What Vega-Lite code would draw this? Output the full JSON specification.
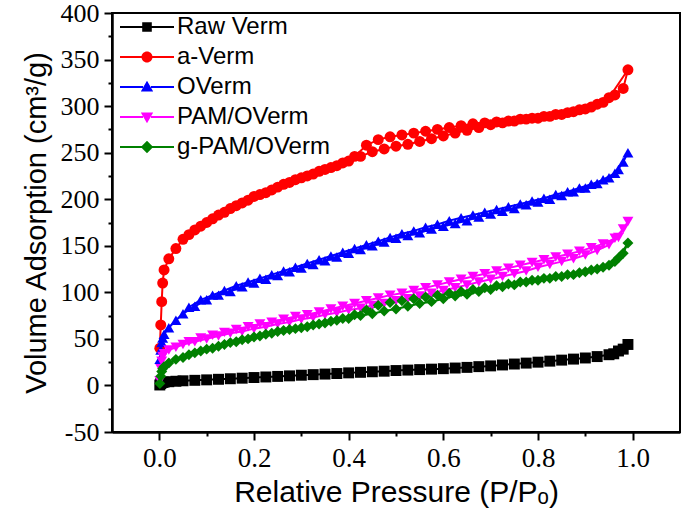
{
  "$schema": "https://vega.github.io/schema/vega-lite/v6.json",
  "width": 568,
  "height": 419,
  "autosize": {"type": "none"},
  "padding": {"left": 112, "top": 13, "right": 5, "bottom": 85},
  "background": "white",
  "config": {
    "view": {"stroke": "black", "strokeWidth": 2},
    "axis": {"grid": false}
  },
  "data": {"values": [
    {"s":"Raw Verm","i":1,"p":0.001,"v":0.5},{"s":"Raw Verm","i":2,"p":0.003,"v":2},{"s":"Raw Verm","i":3,"p":0.005,"v":3},{"s":"Raw Verm","i":4,"p":0.007,"v":3.3},{"s":"Raw Verm","i":5,"p":0.01,"v":3.6},{"s":"Raw Verm","i":6,"p":0.02,"v":4},{"s":"Raw Verm","i":7,"p":0.035,"v":4.5},{"s":"Raw Verm","i":8,"p":0.05,"v":5},{"s":"Raw Verm","i":9,"p":0.075,"v":5.5},{"s":"Raw Verm","i":10,"p":0.1,"v":6},{"s":"Raw Verm","i":11,"p":0.125,"v":6.6},{"s":"Raw Verm","i":12,"p":0.15,"v":7.2},{"s":"Raw Verm","i":13,"p":0.175,"v":7.8},{"s":"Raw Verm","i":14,"p":0.2,"v":8.5},{"s":"Raw Verm","i":15,"p":0.225,"v":9.1},{"s":"Raw Verm","i":16,"p":0.25,"v":9.7},{"s":"Raw Verm","i":17,"p":0.275,"v":10.3},{"s":"Raw Verm","i":18,"p":0.3,"v":11},{"s":"Raw Verm","i":19,"p":0.325,"v":11.6},{"s":"Raw Verm","i":20,"p":0.35,"v":12.2},{"s":"Raw Verm","i":21,"p":0.375,"v":12.8},{"s":"Raw Verm","i":22,"p":0.4,"v":13.5},{"s":"Raw Verm","i":23,"p":0.425,"v":14.1},{"s":"Raw Verm","i":24,"p":0.45,"v":14.7},{"s":"Raw Verm","i":25,"p":0.475,"v":15.3},{"s":"Raw Verm","i":26,"p":0.5,"v":16},{"s":"Raw Verm","i":27,"p":0.525,"v":16.5},{"s":"Raw Verm","i":28,"p":0.55,"v":17},{"s":"Raw Verm","i":29,"p":0.575,"v":17.5},{"s":"Raw Verm","i":30,"p":0.6,"v":18},{"s":"Raw Verm","i":31,"p":0.625,"v":18.7},{"s":"Raw Verm","i":32,"p":0.65,"v":19.4},{"s":"Raw Verm","i":33,"p":0.675,"v":20.2},{"s":"Raw Verm","i":34,"p":0.7,"v":21},{"s":"Raw Verm","i":35,"p":0.725,"v":22},{"s":"Raw Verm","i":36,"p":0.75,"v":23},{"s":"Raw Verm","i":37,"p":0.775,"v":24},{"s":"Raw Verm","i":38,"p":0.8,"v":25},{"s":"Raw Verm","i":39,"p":0.825,"v":26.1},{"s":"Raw Verm","i":40,"p":0.85,"v":27.2},{"s":"Raw Verm","i":41,"p":0.875,"v":28.3},{"s":"Raw Verm","i":42,"p":0.9,"v":29.5},{"s":"Raw Verm","i":43,"p":0.925,"v":31},{"s":"Raw Verm","i":44,"p":0.95,"v":33},{"s":"Raw Verm","i":45,"p":0.97,"v":37},{"s":"Raw Verm","i":46,"p":0.99,"v":44},{"s":"Raw Verm","i":47,"p":0.98,"v":39},{"s":"Raw Verm","i":48,"p":0.96,"v":34},

    {"s":"a-Verm","i":1,"p":0.001,"v":40},{"s":"a-Verm","i":2,"p":0.003,"v":65},{"s":"a-Verm","i":3,"p":0.005,"v":90},{"s":"a-Verm","i":4,"p":0.007,"v":110},{"s":"a-Verm","i":5,"p":0.01,"v":124},{"s":"a-Verm","i":6,"p":0.02,"v":136},{"s":"a-Verm","i":7,"p":0.035,"v":147},{"s":"a-Verm","i":8,"p":0.05,"v":157},{"s":"a-Verm","i":9,"p":0.075,"v":167},{"s":"a-Verm","i":10,"p":0.1,"v":175},{"s":"a-Verm","i":11,"p":0.125,"v":183},{"s":"a-Verm","i":12,"p":0.15,"v":190},{"s":"a-Verm","i":13,"p":0.175,"v":196},{"s":"a-Verm","i":14,"p":0.2,"v":203},{"s":"a-Verm","i":15,"p":0.225,"v":207},{"s":"a-Verm","i":16,"p":0.25,"v":213},{"s":"a-Verm","i":17,"p":0.275,"v":218},{"s":"a-Verm","i":18,"p":0.3,"v":223},{"s":"a-Verm","i":19,"p":0.325,"v":227},{"s":"a-Verm","i":20,"p":0.35,"v":232},{"s":"a-Verm","i":21,"p":0.375,"v":236},{"s":"a-Verm","i":22,"p":0.4,"v":241},{"s":"a-Verm","i":23,"p":0.425,"v":246},{"s":"a-Verm","i":24,"p":0.45,"v":251},{"s":"a-Verm","i":25,"p":0.475,"v":254},{"s":"a-Verm","i":26,"p":0.5,"v":257},{"s":"a-Verm","i":27,"p":0.525,"v":259},{"s":"a-Verm","i":28,"p":0.55,"v":262},{"s":"a-Verm","i":29,"p":0.575,"v":265},{"s":"a-Verm","i":30,"p":0.6,"v":268},{"s":"a-Verm","i":31,"p":0.625,"v":271},{"s":"a-Verm","i":32,"p":0.65,"v":274},{"s":"a-Verm","i":33,"p":0.675,"v":277},{"s":"a-Verm","i":34,"p":0.7,"v":280},{"s":"a-Verm","i":35,"p":0.725,"v":282},{"s":"a-Verm","i":36,"p":0.75,"v":284},{"s":"a-Verm","i":37,"p":0.775,"v":286},{"s":"a-Verm","i":38,"p":0.8,"v":287},{"s":"a-Verm","i":39,"p":0.825,"v":289},{"s":"a-Verm","i":40,"p":0.85,"v":291},{"s":"a-Verm","i":41,"p":0.875,"v":294},{"s":"a-Verm","i":42,"p":0.9,"v":297},{"s":"a-Verm","i":43,"p":0.925,"v":302},{"s":"a-Verm","i":44,"p":0.95,"v":309},{"s":"a-Verm","i":45,"p":0.99,"v":339},
    {"s":"a-Verm","i":46,"p":0.98,"v":319},{"s":"a-Verm","i":47,"p":0.9625,"v":312},{"s":"a-Verm","i":48,"p":0.9375,"v":304},{"s":"a-Verm","i":49,"p":0.9125,"v":299},{"s":"a-Verm","i":50,"p":0.8875,"v":296},{"s":"a-Verm","i":51,"p":0.8625,"v":293},{"s":"a-Verm","i":52,"p":0.8375,"v":291},{"s":"a-Verm","i":53,"p":0.8125,"v":289},{"s":"a-Verm","i":54,"p":0.7875,"v":287},{"s":"a-Verm","i":55,"p":0.7625,"v":286},{"s":"a-Verm","i":56,"p":0.7375,"v":284},{"s":"a-Verm","i":57,"p":0.7125,"v":283},{"s":"a-Verm","i":58,"p":0.6875,"v":282},{"s":"a-Verm","i":59,"p":0.6625,"v":281},{"s":"a-Verm","i":60,"p":0.6375,"v":279},{"s":"a-Verm","i":61,"p":0.6125,"v":277},{"s":"a-Verm","i":62,"p":0.5875,"v":275},{"s":"a-Verm","i":63,"p":0.5625,"v":273},{"s":"a-Verm","i":64,"p":0.5375,"v":271},{"s":"a-Verm","i":65,"p":0.5125,"v":269},{"s":"a-Verm","i":66,"p":0.4875,"v":267},{"s":"a-Verm","i":67,"p":0.4625,"v":264},{"s":"a-Verm","i":68,"p":0.4375,"v":258},{"s":"a-Verm","i":69,"p":0.4125,"v":246},{"s":"a-Verm","i":70,"p":0.3875,"v":239},{"s":"a-Verm","i":71,"p":0.3625,"v":234},{"s":"a-Verm","i":72,"p":0.3375,"v":230},{"s":"a-Verm","i":73,"p":0.3125,"v":225},{"s":"a-Verm","i":74,"p":0.2875,"v":221},{"s":"a-Verm","i":75,"p":0.2625,"v":216},{"s":"a-Verm","i":76,"p":0.2375,"v":210},{"s":"a-Verm","i":77,"p":0.2125,"v":205},{"s":"a-Verm","i":78,"p":0.1875,"v":199},{"s":"a-Verm","i":79,"p":0.1625,"v":193},{"s":"a-Verm","i":80,"p":0.1375,"v":186},{"s":"a-Verm","i":81,"p":0.1125,"v":179},{"s":"a-Verm","i":82,"p":0.0875,"v":171},{"s":"a-Verm","i":83,"p":0.0625,"v":162},

    {"s":"OVerm","i":1,"p":0.001,"v":28},{"s":"OVerm","i":2,"p":0.003,"v":38},{"s":"OVerm","i":3,"p":0.005,"v":46},{"s":"OVerm","i":4,"p":0.007,"v":51},{"s":"OVerm","i":5,"p":0.01,"v":55},{"s":"OVerm","i":6,"p":0.02,"v":62},{"s":"OVerm","i":7,"p":0.035,"v":70},{"s":"OVerm","i":8,"p":0.05,"v":77},{"s":"OVerm","i":9,"p":0.075,"v":85},{"s":"OVerm","i":10,"p":0.1,"v":92},{"s":"OVerm","i":11,"p":0.125,"v":97},{"s":"OVerm","i":12,"p":0.15,"v":101},{"s":"OVerm","i":13,"p":0.175,"v":106},{"s":"OVerm","i":14,"p":0.2,"v":110},{"s":"OVerm","i":15,"p":0.225,"v":114},{"s":"OVerm","i":16,"p":0.25,"v":118},{"s":"OVerm","i":17,"p":0.275,"v":122},{"s":"OVerm","i":18,"p":0.3,"v":126},{"s":"OVerm","i":19,"p":0.325,"v":130},{"s":"OVerm","i":20,"p":0.35,"v":134},{"s":"OVerm","i":21,"p":0.375,"v":138},{"s":"OVerm","i":22,"p":0.4,"v":142},{"s":"OVerm","i":23,"p":0.425,"v":146},{"s":"OVerm","i":24,"p":0.45,"v":150},{"s":"OVerm","i":25,"p":0.475,"v":154},{"s":"OVerm","i":26,"p":0.5,"v":158},{"s":"OVerm","i":27,"p":0.525,"v":161},{"s":"OVerm","i":28,"p":0.55,"v":164},{"s":"OVerm","i":29,"p":0.575,"v":168},{"s":"OVerm","i":30,"p":0.6,"v":171},{"s":"OVerm","i":31,"p":0.625,"v":174},{"s":"OVerm","i":32,"p":0.65,"v":177},{"s":"OVerm","i":33,"p":0.675,"v":181},{"s":"OVerm","i":34,"p":0.7,"v":184},{"s":"OVerm","i":35,"p":0.725,"v":187},{"s":"OVerm","i":36,"p":0.75,"v":190},{"s":"OVerm","i":37,"p":0.775,"v":194},{"s":"OVerm","i":38,"p":0.8,"v":197},{"s":"OVerm","i":39,"p":0.825,"v":200},{"s":"OVerm","i":40,"p":0.85,"v":204},{"s":"OVerm","i":41,"p":0.875,"v":208},{"s":"OVerm","i":42,"p":0.9,"v":212},{"s":"OVerm","i":43,"p":0.925,"v":217},{"s":"OVerm","i":44,"p":0.95,"v":223},{"s":"OVerm","i":45,"p":0.97,"v":232},{"s":"OVerm","i":46,"p":0.99,"v":250},
    {"s":"OVerm","i":47,"p":0.98,"v":240},{"s":"OVerm","i":48,"p":0.9625,"v":228},{"s":"OVerm","i":49,"p":0.9375,"v":221},{"s":"OVerm","i":50,"p":0.9125,"v":216},{"s":"OVerm","i":51,"p":0.8875,"v":212},{"s":"OVerm","i":52,"p":0.8625,"v":208},{"s":"OVerm","i":53,"p":0.8375,"v":205},{"s":"OVerm","i":54,"p":0.8125,"v":201},{"s":"OVerm","i":55,"p":0.7875,"v":198},{"s":"OVerm","i":56,"p":0.7625,"v":195},{"s":"OVerm","i":57,"p":0.7375,"v":192},{"s":"OVerm","i":58,"p":0.7125,"v":189},{"s":"OVerm","i":59,"p":0.6875,"v":186},{"s":"OVerm","i":60,"p":0.6625,"v":183},{"s":"OVerm","i":61,"p":0.6375,"v":180},{"s":"OVerm","i":62,"p":0.6125,"v":177},{"s":"OVerm","i":63,"p":0.5875,"v":173},{"s":"OVerm","i":64,"p":0.5625,"v":170},{"s":"OVerm","i":65,"p":0.5375,"v":166},{"s":"OVerm","i":66,"p":0.5125,"v":163},{"s":"OVerm","i":67,"p":0.4875,"v":159},{"s":"OVerm","i":68,"p":0.4625,"v":155},{"s":"OVerm","i":69,"p":0.4375,"v":151},{"s":"OVerm","i":70,"p":0.4125,"v":147},{"s":"OVerm","i":71,"p":0.3875,"v":143},{"s":"OVerm","i":72,"p":0.3625,"v":139},{"s":"OVerm","i":73,"p":0.3375,"v":135},{"s":"OVerm","i":74,"p":0.3125,"v":131},{"s":"OVerm","i":75,"p":0.2875,"v":127},{"s":"OVerm","i":76,"p":0.2625,"v":123},{"s":"OVerm","i":77,"p":0.2375,"v":119},{"s":"OVerm","i":78,"p":0.2125,"v":115},{"s":"OVerm","i":79,"p":0.1875,"v":111},{"s":"OVerm","i":80,"p":0.1625,"v":107},{"s":"OVerm","i":81,"p":0.1375,"v":102},{"s":"OVerm","i":82,"p":0.1125,"v":97},{"s":"OVerm","i":83,"p":0.0875,"v":92},{"s":"OVerm","i":84,"p":0.0625,"v":84},

    {"s":"PAM/OVerm","i":1,"p":0.001,"v":5},{"s":"PAM/OVerm","i":2,"p":0.003,"v":18},{"s":"PAM/OVerm","i":3,"p":0.005,"v":26},{"s":"PAM/OVerm","i":4,"p":0.007,"v":31},{"s":"PAM/OVerm","i":5,"p":0.01,"v":34},{"s":"PAM/OVerm","i":6,"p":0.02,"v":38},{"s":"PAM/OVerm","i":7,"p":0.035,"v":41},{"s":"PAM/OVerm","i":8,"p":0.05,"v":44},{"s":"PAM/OVerm","i":9,"p":0.075,"v":47},{"s":"PAM/OVerm","i":10,"p":0.1,"v":50},{"s":"PAM/OVerm","i":11,"p":0.125,"v":53},{"s":"PAM/OVerm","i":12,"p":0.15,"v":56},{"s":"PAM/OVerm","i":13,"p":0.175,"v":58},{"s":"PAM/OVerm","i":14,"p":0.2,"v":61},{"s":"PAM/OVerm","i":15,"p":0.225,"v":63},{"s":"PAM/OVerm","i":16,"p":0.25,"v":66},{"s":"PAM/OVerm","i":17,"p":0.275,"v":68},{"s":"PAM/OVerm","i":18,"p":0.3,"v":71},{"s":"PAM/OVerm","i":19,"p":0.325,"v":73},{"s":"PAM/OVerm","i":20,"p":0.35,"v":76},{"s":"PAM/OVerm","i":21,"p":0.375,"v":78},{"s":"PAM/OVerm","i":22,"p":0.4,"v":81},{"s":"PAM/OVerm","i":23,"p":0.425,"v":83},{"s":"PAM/OVerm","i":24,"p":0.45,"v":86},{"s":"PAM/OVerm","i":25,"p":0.475,"v":88},{"s":"PAM/OVerm","i":26,"p":0.5,"v":91},{"s":"PAM/OVerm","i":27,"p":0.525,"v":93},{"s":"PAM/OVerm","i":28,"p":0.55,"v":96},{"s":"PAM/OVerm","i":29,"p":0.575,"v":99},{"s":"PAM/OVerm","i":30,"p":0.6,"v":102},{"s":"PAM/OVerm","i":31,"p":0.625,"v":105},{"s":"PAM/OVerm","i":32,"p":0.65,"v":108},{"s":"PAM/OVerm","i":33,"p":0.675,"v":111},{"s":"PAM/OVerm","i":34,"p":0.7,"v":114},{"s":"PAM/OVerm","i":35,"p":0.725,"v":117},{"s":"PAM/OVerm","i":36,"p":0.75,"v":120},{"s":"PAM/OVerm","i":37,"p":0.775,"v":123},{"s":"PAM/OVerm","i":38,"p":0.8,"v":127},{"s":"PAM/OVerm","i":39,"p":0.825,"v":130},{"s":"PAM/OVerm","i":40,"p":0.85,"v":133},{"s":"PAM/OVerm","i":41,"p":0.875,"v":136},{"s":"PAM/OVerm","i":42,"p":0.9,"v":140},{"s":"PAM/OVerm","i":43,"p":0.925,"v":145},{"s":"PAM/OVerm","i":44,"p":0.95,"v":151},{"s":"PAM/OVerm","i":45,"p":0.97,"v":159},{"s":"PAM/OVerm","i":46,"p":0.99,"v":176},
    {"s":"PAM/OVerm","i":47,"p":0.98,"v":168},{"s":"PAM/OVerm","i":48,"p":0.9625,"v":158},{"s":"PAM/OVerm","i":49,"p":0.9375,"v":152},{"s":"PAM/OVerm","i":50,"p":0.9125,"v":148},{"s":"PAM/OVerm","i":51,"p":0.8875,"v":144},{"s":"PAM/OVerm","i":52,"p":0.8625,"v":141},{"s":"PAM/OVerm","i":53,"p":0.8375,"v":138},{"s":"PAM/OVerm","i":54,"p":0.8125,"v":135},{"s":"PAM/OVerm","i":55,"p":0.7875,"v":132},{"s":"PAM/OVerm","i":56,"p":0.7625,"v":129},{"s":"PAM/OVerm","i":57,"p":0.7375,"v":126},{"s":"PAM/OVerm","i":58,"p":0.7125,"v":123},{"s":"PAM/OVerm","i":59,"p":0.6875,"v":120},{"s":"PAM/OVerm","i":60,"p":0.6625,"v":117},{"s":"PAM/OVerm","i":61,"p":0.6375,"v":114},{"s":"PAM/OVerm","i":62,"p":0.6125,"v":111},{"s":"PAM/OVerm","i":63,"p":0.5875,"v":108},{"s":"PAM/OVerm","i":64,"p":0.5625,"v":105},{"s":"PAM/OVerm","i":65,"p":0.5375,"v":102},{"s":"PAM/OVerm","i":66,"p":0.5125,"v":99},{"s":"PAM/OVerm","i":67,"p":0.4875,"v":97},{"s":"PAM/OVerm","i":68,"p":0.4625,"v":94},{"s":"PAM/OVerm","i":69,"p":0.4375,"v":91},{"s":"PAM/OVerm","i":70,"p":0.4125,"v":88},{"s":"PAM/OVerm","i":71,"p":0.3875,"v":85},{"s":"PAM/OVerm","i":72,"p":0.3625,"v":82},{"s":"PAM/OVerm","i":73,"p":0.3375,"v":79},{"s":"PAM/OVerm","i":74,"p":0.3125,"v":76},{"s":"PAM/OVerm","i":75,"p":0.2875,"v":74},{"s":"PAM/OVerm","i":76,"p":0.2625,"v":71},{"s":"PAM/OVerm","i":77,"p":0.2375,"v":68},{"s":"PAM/OVerm","i":78,"p":0.2125,"v":66},{"s":"PAM/OVerm","i":79,"p":0.1875,"v":63},{"s":"PAM/OVerm","i":80,"p":0.1625,"v":60},{"s":"PAM/OVerm","i":81,"p":0.1375,"v":57},{"s":"PAM/OVerm","i":82,"p":0.1125,"v":54},{"s":"PAM/OVerm","i":83,"p":0.0875,"v":51},{"s":"PAM/OVerm","i":84,"p":0.0625,"v":47},

    {"s":"g-PAM/OVerm","i":1,"p":0.001,"v":2},{"s":"g-PAM/OVerm","i":2,"p":0.003,"v":10},{"s":"g-PAM/OVerm","i":3,"p":0.005,"v":15},{"s":"g-PAM/OVerm","i":4,"p":0.007,"v":18},{"s":"g-PAM/OVerm","i":5,"p":0.01,"v":20},{"s":"g-PAM/OVerm","i":6,"p":0.02,"v":24},{"s":"g-PAM/OVerm","i":7,"p":0.035,"v":28},{"s":"g-PAM/OVerm","i":8,"p":0.05,"v":30},{"s":"g-PAM/OVerm","i":9,"p":0.075,"v":35},{"s":"g-PAM/OVerm","i":10,"p":0.1,"v":39},{"s":"g-PAM/OVerm","i":11,"p":0.125,"v":42},{"s":"g-PAM/OVerm","i":12,"p":0.15,"v":46},{"s":"g-PAM/OVerm","i":13,"p":0.175,"v":49},{"s":"g-PAM/OVerm","i":14,"p":0.2,"v":52},{"s":"g-PAM/OVerm","i":15,"p":0.225,"v":55},{"s":"g-PAM/OVerm","i":16,"p":0.25,"v":58},{"s":"g-PAM/OVerm","i":17,"p":0.275,"v":60},{"s":"g-PAM/OVerm","i":18,"p":0.3,"v":62},{"s":"g-PAM/OVerm","i":19,"p":0.325,"v":65},{"s":"g-PAM/OVerm","i":20,"p":0.35,"v":67},{"s":"g-PAM/OVerm","i":21,"p":0.375,"v":70},{"s":"g-PAM/OVerm","i":22,"p":0.4,"v":72},{"s":"g-PAM/OVerm","i":23,"p":0.425,"v":75},{"s":"g-PAM/OVerm","i":24,"p":0.45,"v":77},{"s":"g-PAM/OVerm","i":25,"p":0.475,"v":80},{"s":"g-PAM/OVerm","i":26,"p":0.5,"v":82},{"s":"g-PAM/OVerm","i":27,"p":0.525,"v":85},{"s":"g-PAM/OVerm","i":28,"p":0.55,"v":88},{"s":"g-PAM/OVerm","i":29,"p":0.575,"v":90},{"s":"g-PAM/OVerm","i":30,"p":0.6,"v":93},{"s":"g-PAM/OVerm","i":31,"p":0.625,"v":96},{"s":"g-PAM/OVerm","i":32,"p":0.65,"v":98},{"s":"g-PAM/OVerm","i":33,"p":0.675,"v":101},{"s":"g-PAM/OVerm","i":34,"p":0.7,"v":103},{"s":"g-PAM/OVerm","i":35,"p":0.725,"v":106},{"s":"g-PAM/OVerm","i":36,"p":0.75,"v":108},{"s":"g-PAM/OVerm","i":37,"p":0.775,"v":111},{"s":"g-PAM/OVerm","i":38,"p":0.8,"v":113},{"s":"g-PAM/OVerm","i":39,"p":0.825,"v":115},{"s":"g-PAM/OVerm","i":40,"p":0.85,"v":117},{"s":"g-PAM/OVerm","i":41,"p":0.875,"v":119},{"s":"g-PAM/OVerm","i":42,"p":0.9,"v":122},{"s":"g-PAM/OVerm","i":43,"p":0.925,"v":125},{"s":"g-PAM/OVerm","i":44,"p":0.95,"v":129},{"s":"g-PAM/OVerm","i":45,"p":0.97,"v":137},{"s":"g-PAM/OVerm","i":46,"p":0.99,"v":153},
    {"s":"g-PAM/OVerm","i":47,"p":0.98,"v":142},{"s":"g-PAM/OVerm","i":48,"p":0.9625,"v":133},{"s":"g-PAM/OVerm","i":49,"p":0.9375,"v":127},{"s":"g-PAM/OVerm","i":50,"p":0.9125,"v":124},{"s":"g-PAM/OVerm","i":51,"p":0.8875,"v":121},{"s":"g-PAM/OVerm","i":52,"p":0.8625,"v":119},{"s":"g-PAM/OVerm","i":53,"p":0.8375,"v":117},{"s":"g-PAM/OVerm","i":54,"p":0.8125,"v":115},{"s":"g-PAM/OVerm","i":55,"p":0.7875,"v":113},{"s":"g-PAM/OVerm","i":56,"p":0.7625,"v":111},{"s":"g-PAM/OVerm","i":57,"p":0.7375,"v":109},{"s":"g-PAM/OVerm","i":58,"p":0.7125,"v":107},{"s":"g-PAM/OVerm","i":59,"p":0.6875,"v":105},{"s":"g-PAM/OVerm","i":60,"p":0.6625,"v":103},{"s":"g-PAM/OVerm","i":61,"p":0.6375,"v":101},{"s":"g-PAM/OVerm","i":62,"p":0.6125,"v":99},{"s":"g-PAM/OVerm","i":63,"p":0.5875,"v":97},{"s":"g-PAM/OVerm","i":64,"p":0.5625,"v":95},{"s":"g-PAM/OVerm","i":65,"p":0.5375,"v":93},{"s":"g-PAM/OVerm","i":66,"p":0.5125,"v":91},{"s":"g-PAM/OVerm","i":67,"p":0.4875,"v":89},{"s":"g-PAM/OVerm","i":68,"p":0.4625,"v":86},{"s":"g-PAM/OVerm","i":69,"p":0.4375,"v":81},{"s":"g-PAM/OVerm","i":70,"p":0.4125,"v":76},{"s":"g-PAM/OVerm","i":71,"p":0.3875,"v":72},{"s":"g-PAM/OVerm","i":72,"p":0.3625,"v":69},{"s":"g-PAM/OVerm","i":73,"p":0.3375,"v":66},{"s":"g-PAM/OVerm","i":74,"p":0.3125,"v":63},{"s":"g-PAM/OVerm","i":75,"p":0.2875,"v":61},{"s":"g-PAM/OVerm","i":76,"p":0.2625,"v":59},{"s":"g-PAM/OVerm","i":77,"p":0.2375,"v":56},{"s":"g-PAM/OVerm","i":78,"p":0.2125,"v":53},{"s":"g-PAM/OVerm","i":79,"p":0.1875,"v":50},{"s":"g-PAM/OVerm","i":80,"p":0.1625,"v":47},{"s":"g-PAM/OVerm","i":81,"p":0.1375,"v":44},{"s":"g-PAM/OVerm","i":82,"p":0.1125,"v":40},{"s":"g-PAM/OVerm","i":83,"p":0.0875,"v":37},{"s":"g-PAM/OVerm","i":84,"p":0.0625,"v":33}
  ]},
  "encoding": {
    "x": {
      "field": "p", "type": "quantitative",
      "scale": {"domain": [-0.1, 1.1], "nice": false, "zero": false},
      "axis": {
        "values": [0, 0.1, 0.2, 0.3, 0.4, 0.5, 0.6, 0.7, 0.8, 0.9, 1.0],
        "labelExpr": "round(datum.value * 10) % 2 === 0 ? format(datum.value, '.1f') : ''",
        "title": "Relative Pressure (P/Pₒ)",
        "domainColor": "black", "domainWidth": 2.5,
        "tickColor": "black", "tickWidth": 2,
        "tickSize": {"condition": {"test": "round(datum.value * 10) % 2 === 0", "value": 8}, "value": 4},
        "labelFont": "Liberation Serif, Times New Roman, DejaVu Serif, serif", "labelFontSize": 27, "labelColor": "black", "labelPadding": 5,
        "labelOverlap": false,
        "titleFont": "Liberation Sans, Arial, sans-serif", "titleFontSize": 30, "titleFontWeight": "normal", "titleColor": "black", "titlePadding": 6
      }
    },
    "y": {
      "field": "v", "type": "quantitative",
      "scale": {"domain": [-50, 400], "nice": false, "zero": false},
      "axis": {
        "values": [-50, -25, 0, 25, 50, 75, 100, 125, 150, 175, 200, 225, 250, 275, 300, 325, 350, 375, 400],
        "labelExpr": "datum.value % 50 === 0 ? '' + datum.value : ''",
        "title": "Volume Adsorption (cm³/g)",
        "domainColor": "black", "domainWidth": 2.5,
        "tickColor": "black", "tickWidth": 2,
        "tickSize": {"condition": {"test": "datum.value % 50 === 0", "value": 8}, "value": 4},
        "labelFont": "Liberation Serif, Times New Roman, DejaVu Serif, serif", "labelFontSize": 26, "labelColor": "black", "labelPadding": 5,
        "labelOverlap": false,
        "titleFont": "Liberation Sans, Arial, sans-serif", "titleFontSize": 29, "titleFontWeight": "normal", "titleColor": "black", "titlePadding": 9
      }
    }
  },
  "layer": [
    {
      "mark": {"type": "line", "strokeWidth": 2},
      "encoding": {
        "color": {"field": "s", "type": "nominal",
          "scale": {"domain": ["Raw Verm", "a-Verm", "OVerm", "PAM/OVerm", "g-PAM/OVerm"], "range": ["#000000", "#ff0000", "#0000ff", "#ff00ff", "#008000"]},
          "legend": null},
        "order": {"field": "i", "type": "quantitative"}
      }
    },
    {
      "mark": {"type": "point", "filled": true, "opacity": 1, "size": 120},
      "encoding": {
        "color": {"field": "s", "type": "nominal",
          "scale": {"domain": ["Raw Verm", "a-Verm", "OVerm", "PAM/OVerm", "g-PAM/OVerm"], "range": ["#000000", "#ff0000", "#0000ff", "#ff00ff", "#008000"]},
          "legend": null},
        "shape": {"field": "s", "type": "nominal",
          "scale": {"domain": ["Raw Verm", "a-Verm", "OVerm", "PAM/OVerm", "g-PAM/OVerm"], "range": ["square", "circle", "triangle-up", "triangle-down", "diamond"]},
          "legend": null}
      }
    },
    {
      "mark": {"type": "point", "filled": true, "opacity": 0},
      "encoding": {
        "color": {"field": "s", "type": "nominal",
          "scale": {"domain": ["Raw Verm", "a-Verm", "OVerm", "PAM/OVerm", "g-PAM/OVerm"], "range": ["#000000", "#ff0000", "#0000ff", "#ff00ff", "#008000"]},
          "legend": {"orient": "none", "legendX": 23, "legendY": 2, "title": null, "symbolSize": 400, "symbolOpacity": 1, "symbolStrokeWidth": 0,
            "labelFont": "Liberation Sans, Arial, sans-serif", "labelFontSize": 24, "labelColor": "black", "labelOffset": 18, "rowPadding": 6, "padding": 0}},
        "shape": {"field": "s", "type": "nominal",
          "scale": {"domain": ["Raw Verm", "a-Verm", "OVerm", "PAM/OVerm", "g-PAM/OVerm"], "range": [
            "M-2.7,-0.1H-0.4V0.1H-2.7Z M0.4,-0.1H2.7V0.1H0.4Z M-0.48,-0.48H0.48V0.48H-0.48Z",
            "M-2.7,-0.1H-0.4V0.1H-2.7Z M0.4,-0.1H2.7V0.1H0.4Z M-0.55,0A0.55,0.55,0,1,1,0.55,0A0.55,0.55,0,1,1,-0.55,0Z",
            "M-2.7,-0.1H-0.4V0.1H-2.7Z M0.4,-0.1H2.7V0.1H0.4Z M0,-0.62L0.62,0.45L-0.62,0.45Z",
            "M-2.7,-0.1H-0.4V0.1H-2.7Z M0.4,-0.1H2.7V0.1H0.4Z M0,0.62L0.62,-0.45L-0.62,-0.45Z",
            "M-2.7,-0.1H-0.4V0.1H-2.7Z M0.4,-0.1H2.7V0.1H0.4Z M0,-0.62L0.62,0L0,0.62L-0.62,0Z"
          ]},
          "legend": {"orient": "none", "legendX": 23, "legendY": 2, "title": null, "symbolSize": 400, "symbolOpacity": 1, "symbolStrokeWidth": 0,
            "labelFont": "Liberation Sans, Arial, sans-serif", "labelFontSize": 24, "labelColor": "black", "labelOffset": 18, "rowPadding": 6, "padding": 0}}
      }
    }
  ],
  "resolve": {"scale": {"color": "independent", "shape": "independent"}}
}
